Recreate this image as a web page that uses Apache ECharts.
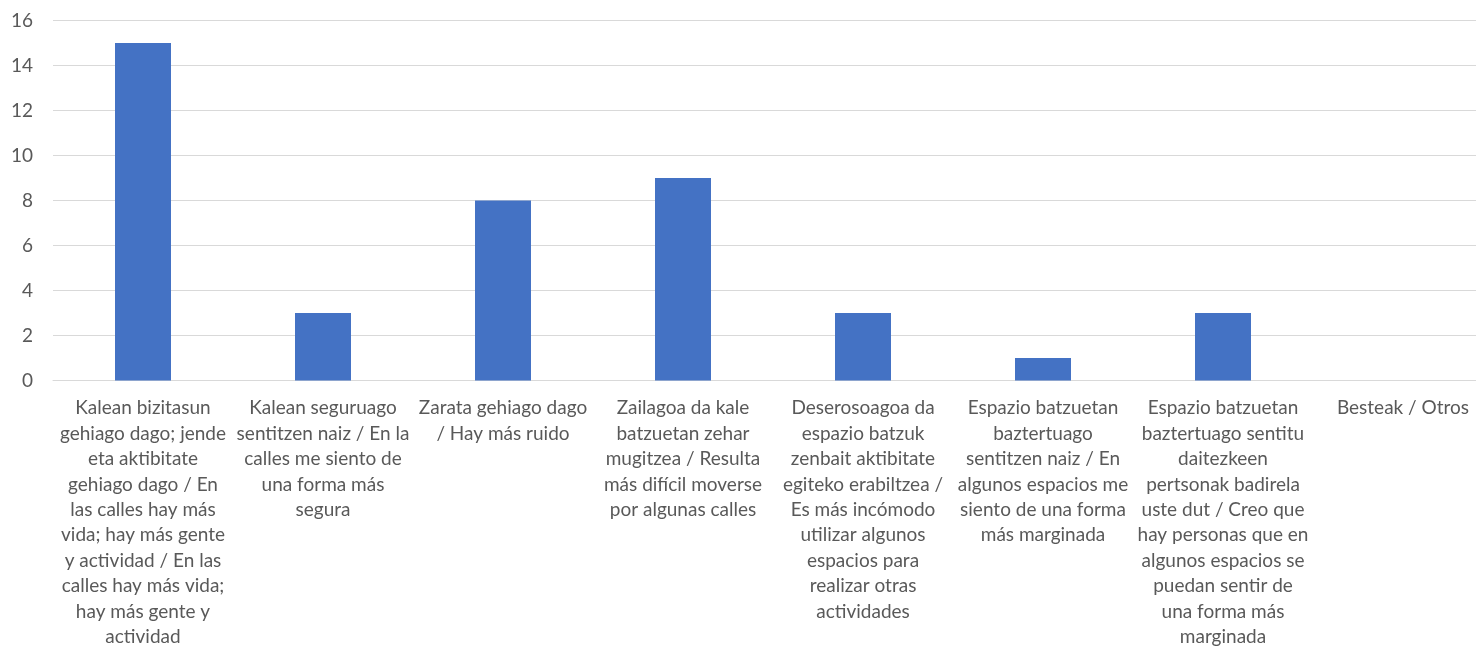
<!DOCTYPE html>
<html>
<head>
<meta charset="utf-8">
<script src="https://cdn.jsdelivr.net/npm/echarts@6/dist/echarts.min.js"></script>
<style>
html,body{margin:0;padding:0;background:#fff;overflow:hidden;}
#chart{width:1493px;height:650px;}
</style>
</head>
<body>
<div id="chart"></div>
<script>
const categories = [
  "Kalean bizitasun\ngehiago dago; jende\neta aktibitate\ngehiago dago / En\nlas calles hay más\nvida; hay más gente\ny actividad / En las\ncalles hay más vida;\nhay más gente y\nactividad",
  "Kalean seguruago\nsentitzen naiz / En la\ncalles me siento de\nuna forma más\nsegura",
  "Zarata gehiago dago\n/ Hay más ruido",
  "Zailagoa da kale\nbatzuetan zehar\nmugitzea / Resulta\nmás difícil moverse\npor algunas calles",
  "Deserosoagoa da\nespazio batzuk\nzenbait aktibitate\negiteko erabiltzea /\nEs más incómodo\nutilizar algunos\nespacios para\nrealizar otras\nactividades",
  "Espazio batzuetan\nbaztertuago\nsentitzen naiz / En\nalgunos espacios me\nsiento de una forma\nmás marginada",
  "Espazio batzuetan\nbaztertuago sentitu\ndaitezkeen\npertsonak badirela\nuste dut / Creo que\nhay personas que en\nalgunos espacios se\npuedan sentir de\nuna forma más\nmarginada",
  "Besteak / Otros"
];
const values = [15, 3, 8, 9, 3, 1, 3, 0];
const yMin = 0, yMax = 16, yStep = 2;

const chart = echarts.init(document.getElementById('chart'));
const font = 'Lato, "Liberation Sans", sans-serif';
chart.setOption({
  animation: false,
  grid: { left: 53, top: 20.5, right: 0, height: 360, containLabel: false },
  xAxis: {
    type: 'category',
    data: categories,
    axisLine: { show: true, lineStyle: { color: '#D9D9D9', width: 1 } },
    axisTick: { show: false },
    axisLabel: {
      interval: 0,
      margin: 15,
      color: '#595959',
      fontFamily: font,
      fontSize: 19,
      lineHeight: 25.4,
      align: 'center'
    }
  },
  yAxis: {
    type: 'value',
    min: yMin, max: yMax, interval: yStep,
    axisLine: { show: false },
    axisTick: { show: false },
    splitLine: { lineStyle: { color: '#D9D9D9', width: 1 } },
    axisLabel: { color: '#595959', fontFamily: font, fontSize: 19, margin: 20 }
  },
  series: [{
    type: 'bar',
    data: values,
    barWidth: 56,
    itemStyle: { color: '#4472C4' }
  }]
});
</script>
</body>
</html>
